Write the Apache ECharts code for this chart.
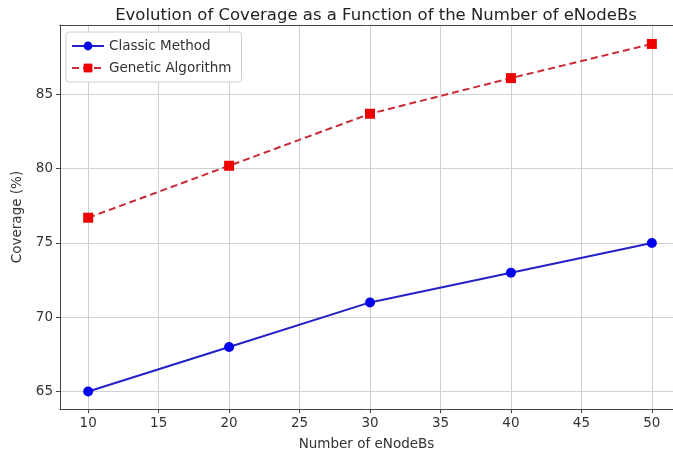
<!DOCTYPE html>
<html>
<head>
<meta charset="utf-8">
<script src="https://cdn.jsdelivr.net/npm/echarts@6/dist/echarts.min.js"></script>
<style>html,body{margin:0;padding:0;background:#fff;}#c{width:673px;height:456px;}</style>
</head>
<body>
<div id="c"></div>
<script>
const nodes = [10, 20, 30, 40, 50];
const classic = [65, 68, 71, 73, 75];
const genetic = [76.7, 80.2, 83.7, 86.1, 88.4];
const xTicks = [10, 15, 20, 25, 30, 35, 40, 45, 50];
const yTicks = [65, 70, 75, 80, 85];

const font = 'DejaVu Sans';
const txt = '#333';
const chart = echarts.init(document.getElementById('c'), null, {renderer: 'canvas'});
chart.setOption({
  animation: false,
  backgroundColor: '#fff',
  title: {
    text: 'Evolution of Coverage as a Function of the Number of eNodeBs',
    left: 371, top: 2, textAlign: 'center',
    textStyle: {fontFamily: font, fontSize: 16.5, fontWeight: 'normal', color: '#222'}
  },
  legend: {
    orient: 'vertical', left: 66, top: 32,
    backgroundColor: '#fff', borderColor: '#cfcfcf', borderWidth: 1, borderRadius: 3,
    padding: [7, 10, 7, 5], itemGap: 8, itemWidth: 32, itemHeight: 11,
    textStyle: {fontFamily: font, fontSize: 13.5, color: txt},
    data: ['Classic Method', 'Genetic Algorithm']
  },
  grid: {left: 60, right: 0, top: 25, bottom: 47, show: false, containLabel: false},
  xAxis: [{
    type: 'value', min: 8, max: 51.5,
    name: 'Number of eNodeBs', nameLocation: 'middle', nameGap: 28,
    nameTextStyle: {fontFamily: font, fontSize: 13.5, color: txt},
    axisLine: {show: true, lineStyle: {color: '#444'}},
    axisTick: {show: true, length: 4, inside: false, customValues: xTicks, lineStyle: {color: '#444'}},
    axisLabel: {customValues: xTicks, fontFamily: font, fontSize: 13.5, color: txt, margin: 7},
    splitLine: {show: true, lineStyle: {color: '#d0d0d0', width: 1}}
  }, {
    type: 'value', min: 8, max: 51.5, position: 'top',
    axisLine: {show: true, onZero: false, lineStyle: {color: '#444'}},
    axisTick: {show: false}, axisLabel: {show: false}, splitLine: {show: false}
  }],
  yAxis: {
    type: 'value', min: 63.825, max: 89.675,
    name: 'Coverage (%)', nameLocation: 'middle', nameGap: 36,
    nameTextStyle: {fontFamily: font, fontSize: 13.5, color: txt},
    axisLine: {show: true, lineStyle: {color: '#444'}},
    axisTick: {show: true, length: 4, customValues: yTicks, lineStyle: {color: '#444'}},
    axisLabel: {customValues: yTicks, fontFamily: font, fontSize: 13.5, color: txt, margin: 7},
    splitLine: {show: true, lineStyle: {color: '#d0d0d0', width: 1}}
  },
  series: [
    {
      name: 'Classic Method', type: 'line',
      data: nodes.map((x, i) => [x, classic[i]]),
      symbol: 'circle', symbolSize: 10,
      lineStyle: {color: '#2222c8', width: 2},
      itemStyle: {color: '#0000ee'}
    },
    {
      name: 'Genetic Algorithm', type: 'line',
      data: nodes.map((x, i) => [x, genetic[i]]),
      symbol: 'rect', symbolSize: 10,
      lineStyle: {color: '#c82a38', width: 2, type: [7, 4]},
      itemStyle: {color: '#ee0000'}
    }
  ]
});
</script>
</body>
</html>
